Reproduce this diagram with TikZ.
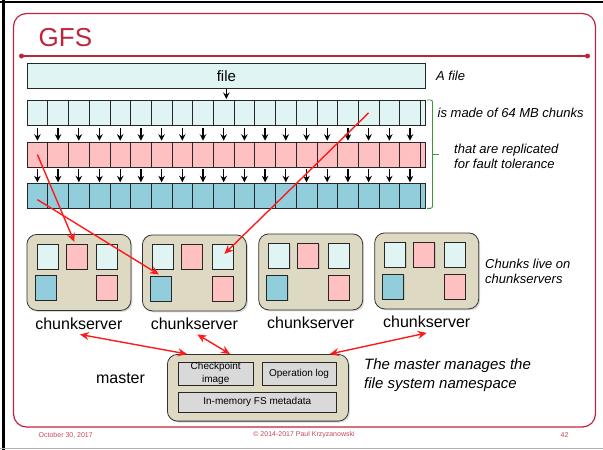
\documentclass[tikz,border=0pt]{standalone}
\usepackage{fontspec}
\setmainfont{Liberation Sans}
\usetikzlibrary{arrows.meta,positioning,shadows}
\definecolor{slidered}{HTML}{C0243C}
\definecolor{chunkcyan}{HTML}{E0F4F4}
\definecolor{chunkpink}{HTML}{FFC0C2}
\definecolor{chunkblue}{HTML}{92CDDC}
\definecolor{servertan}{HTML}{DDD9C3}
\definecolor{metagray}{HTML}{D9D9D9}
\definecolor{bracegreen}{HTML}{3A9A3A}
\definecolor{linkred}{HTML}{FF1A1A}

\begin{document}
\begin{tikzpicture}[x=1pt,y=-1pt]
  \tikzset{cell/.style={draw=black!85,line width=.7pt,inner sep=0pt,minimum width=20.7pt,minimum height=25pt,anchor=north west}}
  \tikzset{down/.style={-{Stealth[length=6.5pt,width=6.5pt,inset=2.2pt]},line width=1.3pt,shorten >=1pt}}
  \tikzset{link/.style={draw=linkred,line width=1.4pt,-{Stealth[length=9pt,width=8pt,inset=3pt]}}}
  \tikzset{sync/.style={draw=linkred,line width=1.4pt,{Stealth[length=9pt,width=8pt,inset=3pt]}-{Stealth[length=9pt,width=8pt,inset=3pt]}}}
  \tikzset{server/.style={draw=black!80,line width=.8pt,fill=servertan,rounded corners=10pt,minimum width=104pt,minimum height=76pt,anchor=north west,inner sep=0pt,drop shadow={shadow xshift=1.5pt,shadow yshift=-1.5pt,opacity=.3}}}
  \tikzset{chunk/.style={draw=black!85,line width=.8pt,inner sep=0pt,minimum width=21pt,minimum height=25pt,anchor=north west,drop shadow={shadow xshift=1pt,shadow yshift=-1pt,opacity=.25}}}
  \tikzset{note/.style={font=\fontsize{13}{15.5}\selectfont\itshape,align=left,anchor=west,inner sep=0pt}}
  \tikzset{box/.style={draw=black!85,line width=.8pt,fill=metagray,inner sep=0pt,anchor=north west,font=\fontsize{10}{12.7}\selectfont,align=center}}
  \tikzset{foot/.style={slidered!85,font=\fontsize{7}{8}\selectfont,inner sep=0pt}}

  \useasboundingbox (0,0) rectangle (603,450);
  % slide frame
  \draw[line width=2.5pt] (3.5,0) -- (3.5,450);
  \draw[line width=2pt] (0,1.5) -- (603,1.5);
  \draw[gray!60,line width=1.5pt] (0,448.5) -- (603,448.5);
  \draw[slidered,line width=1.2pt,rounded corners=13pt] (13.5,13.5) rectangle (595.5,427);
  \draw[slidered,line width=1.2pt] (21.5,56) -- (587.5,56);
  \fill[slidered] (21.5,56) circle (2.5pt) (587.5,56) circle (2.5pt);
  \node[slidered,font=\fontsize{26}{30}\selectfont,anchor=west,inner sep=0pt] (title) at (38.5,37.5) {GFS};

  % file and its chunks
  \node[cell,fill=chunkcyan,minimum width=398.6pt,font=\fontsize{15}{18}\selectfont] (file) at (26.7,63.3) {file};
  \node[note] (afile) at (436,76) {A file};
  \foreach \i in {0,...,18} {
    \node[cell,fill=chunkcyan] (ra\i) at ({26.7+20.7*\i},100) {};
    \node[cell,fill=chunkpink] (rb\i) at ({26.7+20.7*\i},141.7) {};
    \node[cell,fill=chunkblue] (rc\i) at ({26.7+20.7*\i},183.3) {};
    \draw[down] ([yshift=-2pt]ra\i.south) -- (rb\i.north);
    \draw[down] ([yshift=-2pt]rb\i.south) -- (rc\i.north);
  }
  \node[cell,fill=chunkcyan,minimum width=5.3pt] (raend) at (420,100) {};
  \node[cell,fill=chunkpink,minimum width=5.3pt] (rbend) at (420,141.7) {};
  \node[cell,fill=chunkblue,minimum width=5.3pt] (rcend) at (420,183.3) {};
  \draw[down] (file.south) -- (file.south |- ra0.north);

  \draw[bracegreen,line width=.9pt,rounded corners=2pt] (427,100) -- (432.5,100) -- (432.5,208.3) -- (427,208.3);
  \draw[bracegreen,line width=1.5pt] (432.5,154.3) -- (439,154.3);
  \node[note] (chunksnote) at (437.5,113.3) {is made of 64 MB chunks};
  \node[note,font=\fontsize{13}{14.7}\selectfont\itshape] (replnote) at (454,156.5) {that are replicated\\for fault tolerance};

  % chunkservers
  \foreach \n/\x/\y in {1/26.5/234,2/142/234.5,3/258.3/233.5,4/374.3/232.5} {
    \node[server] (cs\n) at (\x,\y) {};
    \node[chunk,fill=chunkcyan] (cs\n-a) at ([xshift=10pt,yshift=-9.5pt]cs\n.north west) {};
    \node[chunk,fill=chunkpink] (cs\n-b) at ([xshift=39pt,yshift=-9.5pt]cs\n.north west) {};
    \node[chunk,fill=chunkcyan] (cs\n-c) at ([xshift=69.5pt,yshift=-9.5pt]cs\n.north west) {};
    \node[chunk,fill=chunkblue] (cs\n-d) at ([xshift=8pt,yshift=-41pt]cs\n.north west) {};
    \node[chunk,fill=chunkpink] (cs\n-e) at ([xshift=69.5pt,yshift=-41pt]cs\n.north west) {};
    \node[below=6.5pt of cs\n,font=\fontsize{16}{19}\selectfont,inner sep=0pt] (lbl\n) {chunkserver};
  }
  \node[note] (livenote) at (485,271.3) {Chunks live on\\chunkservers};

  % master
  \node[server,minimum width=181pt,minimum height=66.7pt] (master) at (167,354) {};
  \node[box,minimum width=74.7pt,minimum height=23.3pt] (ckpt) at (178,361.7) {Checkpoint\\image};
  \node[box,minimum width=74.3pt,minimum height=23.3pt] (oplog) at (261.5,361.7) {Operation log};
  \node[box,minimum width=157.8pt,minimum height=19.4pt] (meta) at (178,392.3) {In-memory FS metadata};
  \node[font=\fontsize{16}{19}\selectfont,inner sep=0pt] (masterlbl) at (120.5,378) {master};
  \node[note,font=\fontsize{15}{18.3}\selectfont\itshape] (masternote) at (364,375) {The master manages the\\file system namespace};

  \draw[link] (rb0.center) -- ([xshift=-2pt,yshift=1.5pt]cs1-b.north);
  \draw[link] ([yshift=-3.5pt]rc0.center) -- ([xshift=-2pt,yshift=1pt]cs2-d.north);
  \draw[link] (ra16.center) -- ([xshift=2pt,yshift=3pt]cs2-c.center);
  \draw[sync] ([xshift=1pt,yshift=-5pt]lbl1.south) -- ([xshift=20pt]master.north west);
  \draw[sync] ([xshift=3pt,yshift=-4.5pt]lbl2.south) -- ([xshift=63pt]master.north west);
  \draw[sync] ([yshift=-5pt]lbl4.south) -- ([xshift=-19pt]master.north east);

  % footer
  \node[foot,anchor=west] (date) at (38.5,435) {October 30, 2017};
  \node[foot] (copy) at (304,435) {© 2014-2017 Paul Krzyzanowski};
  \node[foot] (page) at (564.5,435) {42};
\end{tikzpicture}
\end{document}
